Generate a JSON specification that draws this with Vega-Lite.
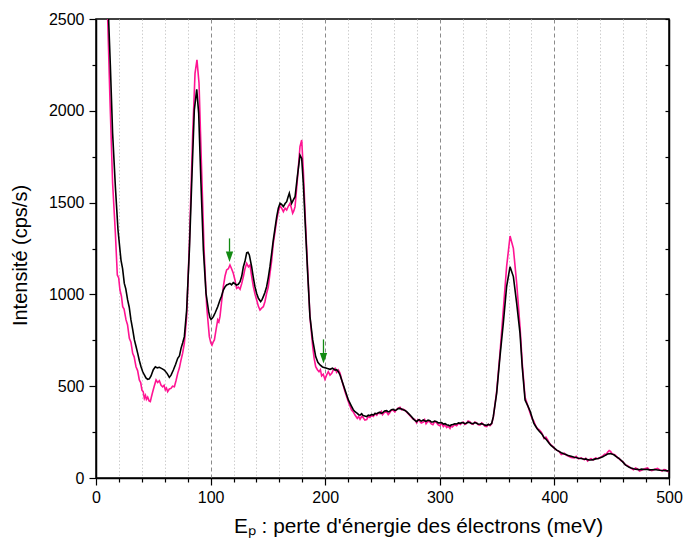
{
  "$schema": "https://vega.github.io/schema/vega-lite/v6.json",
  "width": 573,
  "height": 459,
  "autosize": "none",
  "padding": {"left": 96, "top": 19, "right": 14, "bottom": 62},
  "background": "white",
  "config": {
    "font": "Liberation Sans",
    "view": {"stroke": "black", "strokeWidth": 1.5},
    "axis": {
      "domainColor": "black", "domainWidth": 1.5,
      "tickColor": "black", "tickWidth": 1.2,
      "labelColor": "black", "labelFontSize": 16, "labelFont": "Liberation Sans",
      "labelOverlap": false,
      "titleColor": "black", "titleFontSize": 20, "titleFontWeight": "normal", "titleFont": "Liberation Sans"
    }
  },
  "datasets": {
    "pink": [
      {"x":8,"y":3600},{"x":10.2,"y":2500},{"x":12.2,"y":2059},{"x":14.5,"y":1605},{"x":16.9,"y":1333},{"x":18.6,"y":1106},{"x":19.8,"y":1090},{"x":20.9,"y":1024},{"x":22.2,"y":990},{"x":23.3,"y":933},{"x":24.5,"y":920},{"x":26.2,"y":861},{"x":27.5,"y":835},{"x":29.1,"y":761},{"x":30.5,"y":740},{"x":32,"y":679},{"x":33.3,"y":660},{"x":34.9,"y":606},{"x":36.3,"y":585},{"x":37.8,"y":534},{"x":39,"y":520},{"x":40.1,"y":479},{"x":41.2,"y":470},{"x":42.2,"y":434},{"x":43.2,"y":450},{"x":44,"y":428},{"x":45.1,"y":440},{"x":46.3,"y":420},{"x":47.4,"y":416},{"x":48.5,"y":445},{"x":49.5,"y":470},{"x":50.8,"y":500},{"x":52.4,"y":534},{"x":53.8,"y":520},{"x":55.3,"y":530},{"x":56.8,"y":505},{"x":58.2,"y":497},{"x":59.4,"y":505},{"x":60.5,"y":480},{"x":61.5,"y":490},{"x":62.5,"y":470},{"x":64,"y":485},{"x":65.4,"y":488},{"x":66.8,"y":500},{"x":68.4,"y":497},{"x":69.8,"y":530},{"x":71.3,"y":570},{"x":72.8,"y":600},{"x":74.2,"y":643},{"x":75.6,"y":680},{"x":77.1,"y":734},{"x":79.1,"y":879},{"x":81.5,"y":1278},{"x":84.4,"y":1877},{"x":86.4,"y":2204},{"x":88.1,"y":2277},{"x":89.9,"y":2150},{"x":91.9,"y":1732},{"x":94.3,"y":1242},{"x":96.6,"y":933},{"x":98.9,"y":770},{"x":100.2,"y":735},{"x":101.2,"y":724},{"x":102.2,"y":740},{"x":103.3,"y":752},{"x":104.8,"y":810},{"x":106.2,"y":861},{"x":107.2,"y":850},{"x":108.2,"y":880},{"x":109.6,"y":960},{"x":111.1,"y":1042},{"x":112.6,"y":1100},{"x":114,"y":1133},{"x":115.5,"y":1140},{"x":116.9,"y":1160},{"x":118.3,"y":1140},{"x":119.8,"y":1115},{"x":121.2,"y":1080},{"x":122.7,"y":1033},{"x":124.2,"y":1040},{"x":125.7,"y":1028},{"x":127.2,"y":1060},{"x":128.6,"y":1097},{"x":130,"y":1140},{"x":131.5,"y":1169},{"x":133,"y":1150},{"x":134.4,"y":1160},{"x":135.8,"y":1100},{"x":137.3,"y":1042},{"x":138.8,"y":1000},{"x":140.2,"y":970},{"x":141.7,"y":935},{"x":143.1,"y":915},{"x":144.5,"y":925},{"x":146,"y":933},{"x":147.4,"y":960},{"x":148.9,"y":1006},{"x":150.3,"y":1040},{"x":151.8,"y":1115},{"x":153.2,"y":1180},{"x":154.7,"y":1278},{"x":156.2,"y":1340},{"x":157.7,"y":1405},{"x":159.1,"y":1450},{"x":160.6,"y":1482},{"x":162,"y":1470},{"x":163.5,"y":1451},{"x":165,"y":1470},{"x":166.4,"y":1460},{"x":167.8,"y":1480},{"x":169.3,"y":1496},{"x":170.5,"y":1470},{"x":171.6,"y":1442},{"x":172.6,"y":1455},{"x":173.7,"y":1478},{"x":175.7,"y":1623},{"x":178,"y":1805},{"x":179.5,"y":1841},{"x":180.9,"y":1678},{"x":182.7,"y":1405},{"x":184.7,"y":1133},{"x":186.7,"y":879},{"x":189.1,"y":715},{"x":190.4,"y":650},{"x":191.7,"y":606},{"x":193.2,"y":590},{"x":194.6,"y":579},{"x":195.8,"y":590},{"x":196.9,"y":556},{"x":198.3,"y":565},{"x":199.8,"y":537},{"x":201.2,"y":560},{"x":202.7,"y":579},{"x":204.2,"y":560},{"x":205.7,"y":570},{"x":207.2,"y":590},{"x":208.6,"y":597},{"x":210,"y":575},{"x":211.5,"y":588},{"x":213,"y":570},{"x":214.4,"y":534},{"x":217.3,"y":470},{"x":220.2,"y":416},{"x":223,"y":370},{"x":224.5,"y":360},{"x":226,"y":343},{"x":228,"y":325},{"x":229.2,"y":335},{"x":230.4,"y":320},{"x":231.8,"y":335},{"x":233,"y":330},{"x":234.6,"y":315},{"x":236.2,"y":318},{"x":237.6,"y":335},{"x":239,"y":330},{"x":240.5,"y":340},{"x":242,"y":335},{"x":243.5,"y":350},{"x":245,"y":342},{"x":246.4,"y":355},{"x":247.8,"y":350},{"x":249,"y":362},{"x":250,"y":345},{"x":251.8,"y":358},{"x":253.6,"y":360},{"x":255,"y":345},{"x":256,"y":352},{"x":257.8,"y":370},{"x":259.4,"y":368},{"x":260.8,"y":360},{"x":262,"y":372},{"x":263.6,"y":380},{"x":265.3,"y":385},{"x":266.6,"y":372},{"x":268,"y":375},{"x":269.6,"y":368},{"x":271.1,"y":358},{"x":273.2,"y":345},{"x":275.4,"y":330},{"x":276.8,"y":320},{"x":278,"y":320},{"x":279.8,"y":300},{"x":281,"y":318},{"x":282,"y":312},{"x":283.8,"y":300},{"x":285.6,"y":305},{"x":286.8,"y":318},{"x":288,"y":295},{"x":289.8,"y":310},{"x":291.4,"y":305},{"x":292.6,"y":295},{"x":294,"y":290},{"x":295.6,"y":308},{"x":297.3,"y":300},{"x":298.6,"y":290},{"x":300,"y":285},{"x":301.6,"y":298},{"x":303.1,"y":280},{"x":304.6,"y":290},{"x":306,"y":275},{"x":307.4,"y":282},{"x":308.9,"y":270},{"x":310,"y":285},{"x":311,"y":278},{"x":313,"y":290},{"x":314.7,"y":285},{"x":316.4,"y":298},{"x":318,"y":292},{"x":319.2,"y":300},{"x":320.5,"y":305},{"x":321.8,"y":292},{"x":323,"y":295},{"x":324.7,"y":310},{"x":326.4,"y":305},{"x":327.6,"y":295},{"x":329,"y":292},{"x":330.6,"y":305},{"x":332.2,"y":300},{"x":333.6,"y":290},{"x":335,"y":288},{"x":336.6,"y":300},{"x":338,"y":292},{"x":339.4,"y":282},{"x":341,"y":280},{"x":342.4,"y":292},{"x":343.8,"y":285},{"x":345.3,"y":295},{"x":346.7,"y":330},{"x":349.6,"y":470},{"x":352.5,"y":679},{"x":355.4,"y":915},{"x":358.3,"y":1151},{"x":361.3,"y":1318},{"x":364.2,"y":1251},{"x":367.1,"y":1060},{"x":370,"y":824},{"x":372,"y":620},{"x":374.4,"y":440},{"x":377,"y":390},{"x":379,"y":350},{"x":380.5,"y":325},{"x":382,"y":310},{"x":383.6,"y":285},{"x":385,"y":270},{"x":386.8,"y":262},{"x":388.6,"y":250},{"x":389.8,"y":235},{"x":391,"y":215},{"x":392.6,"y":222},{"x":394.4,"y":205},{"x":395.6,"y":190},{"x":397,"y":180},{"x":398.6,"y":172},{"x":400.2,"y":160},{"x":402,"y":152},{"x":404,"y":145},{"x":406,"y":128},{"x":408.6,"y":135},{"x":410.2,"y":125},{"x":412,"y":120},{"x":414.6,"y":112},{"x":417.4,"y":110},{"x":419,"y":118},{"x":421,"y":105},{"x":423.4,"y":110},{"x":426.1,"y":100},{"x":427.4,"y":108},{"x":429,"y":92},{"x":430.4,"y":100},{"x":431.9,"y":105},{"x":433.8,"y":98},{"x":436,"y":110},{"x":438.2,"y":105},{"x":440.6,"y":115},{"x":442.2,"y":120},{"x":444,"y":130},{"x":445.2,"y":128},{"x":446.4,"y":140},{"x":447.8,"y":150},{"x":449,"y":145},{"x":450.6,"y":130},{"x":452.2,"y":128},{"x":453.6,"y":122},{"x":455,"y":110},{"x":456.4,"y":108},{"x":458,"y":95},{"x":460,"y":88},{"x":462,"y":70},{"x":463.6,"y":68},{"x":465.3,"y":60},{"x":467,"y":52},{"x":469,"y":45},{"x":470.8,"y":55},{"x":472.5,"y":50},{"x":474.2,"y":38},{"x":476,"y":42},{"x":478.6,"y":50},{"x":481.3,"y":55},{"x":483,"y":45},{"x":485,"y":40},{"x":487.6,"y":48},{"x":490,"y":52},{"x":492,"y":44},{"x":494,"y":38},{"x":495.6,"y":46},{"x":497,"y":45},{"x":498.6,"y":36},{"x":500,"y":35}
    ],
    "black": [
      {"x":8,"y":3600},{"x":10,"y":2900},{"x":11,"y":2500},{"x":12.5,"y":2250},{"x":14.5,"y":1877},{"x":16.9,"y":1587},{"x":19.2,"y":1351},{"x":21.8,"y":1187},{"x":23.2,"y":1140},{"x":24.7,"y":1060},{"x":26,"y":1030},{"x":27.6,"y":970},{"x":29,"y":930},{"x":30.5,"y":861},{"x":32,"y":810},{"x":33.5,"y":752},{"x":35,"y":715},{"x":36.4,"y":679},{"x":37.8,"y":640},{"x":39.3,"y":606},{"x":40.7,"y":580},{"x":42.2,"y":561},{"x":43.6,"y":545},{"x":45.1,"y":537},{"x":46.5,"y":540},{"x":48,"y":556},{"x":50,"y":590},{"x":51.8,"y":606},{"x":53.5,"y":600},{"x":55.3,"y":603},{"x":57.5,"y":596},{"x":59.6,"y":588},{"x":62,"y":570},{"x":64,"y":548},{"x":65.5,"y":560},{"x":67.5,"y":588},{"x":69.5,"y":620},{"x":71.3,"y":652},{"x":72.8,"y":665},{"x":74.2,"y":706},{"x":75.6,"y":735},{"x":77.1,"y":770},{"x":79.1,"y":915},{"x":81.5,"y":1242},{"x":83.8,"y":1660},{"x":85.8,"y":2005},{"x":87.9,"y":2117},{"x":89.6,"y":1986},{"x":91.6,"y":1605},{"x":93.7,"y":1242},{"x":96,"y":1006},{"x":98.3,"y":906},{"x":99.4,"y":875},{"x":100.4,"y":864},{"x":101.4,"y":870},{"x":102.4,"y":879},{"x":104,"y":900},{"x":106.2,"y":933},{"x":108.2,"y":970},{"x":109.5,"y":990},{"x":111.1,"y":1024},{"x":112.5,"y":1040},{"x":114,"y":1051},{"x":115.5,"y":1055},{"x":116.9,"y":1060},{"x":118.3,"y":1052},{"x":119.8,"y":1064},{"x":121.2,"y":1058},{"x":122.7,"y":1051},{"x":124.2,"y":1055},{"x":125.7,"y":1069},{"x":127.2,"y":1100},{"x":128.6,"y":1151},{"x":130,"y":1180},{"x":131.5,"y":1227},{"x":132.6,"y":1230},{"x":133.8,"y":1215},{"x":135.8,"y":1151},{"x":137.2,"y":1095},{"x":138.7,"y":1042},{"x":140.2,"y":1005},{"x":141.7,"y":979},{"x":143.7,"y":961},{"x":144.8,"y":970},{"x":146,"y":988},{"x":147.4,"y":1010},{"x":148.9,"y":1042},{"x":150.3,"y":1090},{"x":151.8,"y":1151},{"x":153.2,"y":1220},{"x":154.7,"y":1296},{"x":156.2,"y":1360},{"x":157.7,"y":1424},{"x":159.1,"y":1470},{"x":160.6,"y":1496},{"x":162,"y":1490},{"x":163.5,"y":1478},{"x":165,"y":1495},{"x":166.4,"y":1505},{"x":167.6,"y":1530},{"x":168.7,"y":1551},{"x":170.7,"y":1496},{"x":172.2,"y":1515},{"x":173.7,"y":1532},{"x":175.7,"y":1641},{"x":178,"y":1759},{"x":179.5,"y":1741},{"x":180.9,"y":1605},{"x":182.7,"y":1369},{"x":184.7,"y":1115},{"x":186.7,"y":879},{"x":189.1,"y":752},{"x":191.7,"y":661},{"x":193.6,"y":630},{"x":195.5,"y":616},{"x":197.6,"y":605},{"x":199.8,"y":601},{"x":202,"y":596},{"x":204.2,"y":592},{"x":206.4,"y":598},{"x":208.6,"y":588},{"x":210,"y":590},{"x":211.5,"y":579},{"x":213,"y":560},{"x":214.4,"y":534},{"x":217.3,"y":479},{"x":220.2,"y":425},{"x":223,"y":390},{"x":224.5,"y":372},{"x":226,"y":361},{"x":228,"y":352},{"x":229.2,"y":345},{"x":230.4,"y":343},{"x":231.8,"y":350},{"x":233,"y":340},{"x":234.6,"y":338},{"x":236.2,"y":334},{"x":237.6,"y":342},{"x":239,"y":340},{"x":240.5,"y":346},{"x":242,"y":343},{"x":243.5,"y":352},{"x":245,"y":350},{"x":246.4,"y":355},{"x":247.8,"y":358},{"x":249,"y":352},{"x":250,"y":355},{"x":251.8,"y":365},{"x":253.6,"y":367},{"x":255,"y":360},{"x":256,"y":362},{"x":257.8,"y":372},{"x":259.4,"y":374},{"x":260.8,"y":368},{"x":262,"y":370},{"x":263.6,"y":378},{"x":265.3,"y":379},{"x":266.6,"y":376},{"x":268,"y":372},{"x":269.6,"y":368},{"x":271.1,"y":361},{"x":273.2,"y":348},{"x":275.4,"y":334},{"x":277.5,"y":318},{"x":279.8,"y":307},{"x":281,"y":315},{"x":282,"y":318},{"x":283.8,"y":310},{"x":285.6,"y":316},{"x":286.8,"y":312},{"x":288,"y":308},{"x":289.8,"y":315},{"x":291.4,"y":312},{"x":292.6,"y":305},{"x":294,"y":305},{"x":295.6,"y":310},{"x":297.3,"y":307},{"x":298.6,"y":300},{"x":300,"y":300},{"x":301.6,"y":302},{"x":303.1,"y":294},{"x":304.6,"y":296},{"x":306,"y":290},{"x":307.4,"y":288},{"x":308.9,"y":283},{"x":310,"y":290},{"x":311,"y":290},{"x":313,"y":295},{"x":314.7,"y":294},{"x":316.4,"y":300},{"x":318,"y":298},{"x":319.2,"y":302},{"x":320.5,"y":301},{"x":321.8,"y":296},{"x":323,"y":298},{"x":324.7,"y":304},{"x":326.4,"y":301},{"x":327.6,"y":297},{"x":329,"y":296},{"x":330.6,"y":302},{"x":332.2,"y":298},{"x":333.6,"y":293},{"x":335,"y":294},{"x":336.6,"y":296},{"x":338,"y":292},{"x":339.4,"y":288},{"x":341,"y":287},{"x":342.4,"y":292},{"x":343.8,"y":289},{"x":345.3,"y":298},{"x":346.7,"y":334},{"x":349.6,"y":461},{"x":352.5,"y":661},{"x":355.4,"y":842},{"x":358.3,"y":1042},{"x":361.3,"y":1151},{"x":364.2,"y":1097},{"x":367.1,"y":951},{"x":370,"y":788},{"x":372,"y":600},{"x":374.4,"y":425},{"x":377,"y":390},{"x":379,"y":361},{"x":380.5,"y":330},{"x":382,"y":298},{"x":383.6,"y":282},{"x":385,"y":268},{"x":386.8,"y":255},{"x":388.6,"y":243},{"x":389.8,"y":232},{"x":391,"y":220},{"x":392.6,"y":212},{"x":394.4,"y":198},{"x":395.6,"y":188},{"x":397,"y":178},{"x":398.6,"y":170},{"x":400.2,"y":162},{"x":402,"y":152},{"x":404,"y":145},{"x":406,"y":138},{"x":408.6,"y":131},{"x":410.2,"y":128},{"x":412,"y":122},{"x":414.6,"y":118},{"x":417.4,"y":113},{"x":419,"y":112},{"x":421,"y":108},{"x":423.4,"y":106},{"x":426.1,"y":102},{"x":427.4,"y":104},{"x":429,"y":100},{"x":430.4,"y":98},{"x":431.9,"y":98},{"x":433.8,"y":100},{"x":436,"y":104},{"x":438.2,"y":106},{"x":440.6,"y":111},{"x":442.2,"y":116},{"x":444,"y":122},{"x":446.4,"y":131},{"x":449,"y":133},{"x":450.6,"y":130},{"x":452.2,"y":125},{"x":453.6,"y":118},{"x":455,"y":112},{"x":456.4,"y":105},{"x":458,"y":98},{"x":460,"y":85},{"x":462,"y":72},{"x":463.6,"y":65},{"x":465.3,"y":58},{"x":467,"y":54},{"x":469,"y":50},{"x":470.8,"y":48},{"x":472.5,"y":47},{"x":474.2,"y":45},{"x":476,"y":48},{"x":478.6,"y":46},{"x":481.3,"y":47},{"x":483,"y":44},{"x":485,"y":45},{"x":487.6,"y":46},{"x":490,"y":44},{"x":492,"y":42},{"x":495,"y":41},{"x":497,"y":40},{"x":500,"y":38}
    ],
    "arrows": [
      {"x":116.5,"top":1305,"base":1232,"mid":1205},
      {"x":198.5,"top":755,"base":680,"mid":652}
    ]
  },
  "resolve": {"scale": {"y": "shared", "x": "shared"}, "axis": {"y": "independent"}},
  "encoding": {
    "x": {
      "field": "x", "type": "quantitative",
      "scale": {"domain": [0, 500], "nice": false, "zero": false},
      "axis": {
        "values": [0,20,40,60,80,100,120,140,160,180,200,220,240,260,280,300,320,340,360,380,400,420,440,460,480,500],
        "labelExpr": "abs(datum.value - round(datum.value / 100) * 100) < 0.01 ? format(datum.value, 'd') : ''",
        "labelOverlap": false,
        "labelBound": false,
        "tickSize": {"condition": {"test": "abs(datum.value - round(datum.value / 100) * 100) < 0.01", "value": 7}, "value": 4},
        "grid": true,
        "gridColor": {"condition": {"test": "abs(datum.value - round(datum.value / 100) * 100) < 0.01", "value": "#8a8a8a"}, "value": "#cfcfcf"},
        "gridDash": {"condition": {"test": "abs(datum.value - round(datum.value / 100) * 100) < 0.01", "value": [4, 3]}, "value": [1.5, 2]},
        "gridWidth": 1,
        "labelPadding": 4,
        "labelFlush": false,
        "title": "Eₚ : perte d'énergie des électrons (meV)",
        "titleFontSize": 20.8,
        "titleX": 322,
        "titleY": 54,
        "titleAlign": "center",
        "titleBaseline": "alphabetic"
      }
    }
  },
  "layer": [
    {
      "data": {"name": "pink"},
      "mark": {"type": "line", "color": "#ff1493", "strokeWidth": 1.6, "clip": true},
      "encoding": {
        "y": {
          "field": "y", "type": "quantitative",
          "scale": {"domain": [0, 2500], "nice": false, "zero": true},
          "axis": {
            "values": [0,250,500,750,1000,1250,1500,1750,2000,2250,2500],
            "labelExpr": "abs(datum.value - round(datum.value / 500) * 500) < 0.01 ? format(datum.value, 'd') : ''",
            "labelOverlap": false,
            "tickSize": {"condition": {"test": "abs(datum.value - round(datum.value / 500) * 500) < 0.01", "value": 7}, "value": 4},
            "grid": false,
            "labelPadding": 5,
            "labelFlush": false,
            "title": "Intensité (cps/s)",
            "titleX": -76,
            "titleY": 236,
            "titleBaseline": "middle",
            "titleAlign": "center"
          }
        }
      }
    },
    {
      "data": {"name": "black"},
      "mark": {"type": "line", "color": "black", "strokeWidth": 1.6, "clip": true},
      "encoding": {
        "y": {"field": "y", "type": "quantitative", "axis": null}
      }
    },
    {
      "data": {"name": "arrows"},
      "mark": {"type": "rule", "color": "#128a12", "strokeWidth": 1.3},
      "encoding": {
        "y": {
          "field": "top", "type": "quantitative",
          "axis": {
            "orient": "right",
            "values": [0,250,500,750,1000,1250,1500,1750,2000,2250,2500],
            "labels": false,
            "tickSize": -4,
            "grid": false,
            "title": null
          }
        },
        "y2": {"field": "base"}
      }
    },
    {
      "data": {"name": "arrows"},
      "mark": {"type": "point", "shape": "M-0.7,-1L0.7,-1L0,1Z", "filled": true, "color": "#128a12", "size": 110, "opacity": 1},
      "encoding": {
        "y": {"field": "mid", "type": "quantitative", "axis": null}
      }
    }
  ]
}
